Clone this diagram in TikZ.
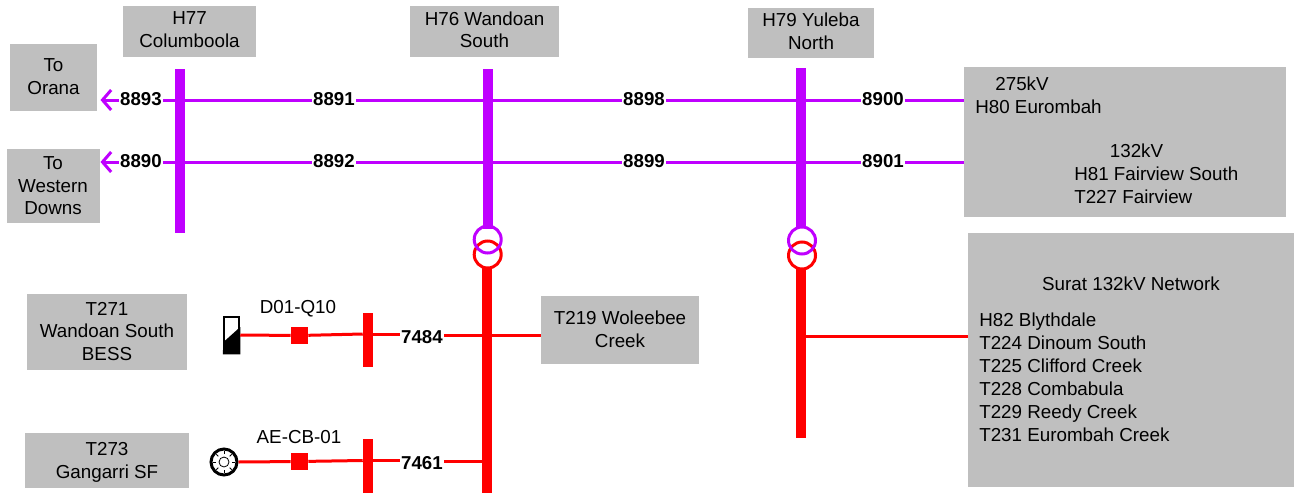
\documentclass[tikz,border=0pt]{standalone}
\usepackage{fontspec}
\setmainfont{Liberation Sans}
\usetikzlibrary{arrows.meta}
\definecolor{kvhigh}{HTML}{BF00FF}
\definecolor{kvlow}{HTML}{FF0000}
\definecolor{boxgray}{HTML}{BFBFBF}
% struts that nudge the text of a box up or down
\newcommand{\nudgeup}[1]{\rule[-#1]{0pt}{#1}}
\newcommand{\nudgedown}[1]{\rule{0pt}{#1}}
\tikzset{
	sized/.style 2 args={minimum width=#1*0.75pt, minimum height=#2*0.75pt, inner sep=0pt},
	stnbox/.style={rectangle, fill=boxgray, align=center, font=\fontsize{14.1}{16.875}\selectfont},
	stntext/.style={align=left, inner sep=0pt, font=\fontsize{14.1}{17.25}\selectfont},
	numlabel/.style={fill=white, inner xsep=1pt, inner ysep=0pt, text height=10pt, text depth=2pt, font=\fontsize{14}{14}\selectfont\bfseries},
	devlabel/.style={inner sep=0pt, font=\fontsize{14.1}{14}\selectfont},
	busbar/.style={rectangle, fill=#1},
	winding/.style={circle, draw=#1, line width=2.25pt, minimum size=20.25pt, inner sep=0pt},
	hvline/.style={draw=kvhigh, line width=2.25pt},
	lvline/.style={draw=kvlow, line width=2.25pt},
	breaker/.style={rectangle, fill=kvlow, minimum size=12.75pt, inner sep=0pt}
}
\begin{document}
\begin{tikzpicture}[x=0.75pt, y=-0.75pt]
	\useasboundingbox (0,0) rectangle (1295,493);

	% Stations and feeders
	\node[stnbox, sized={133}{51}] (H77) at (189.5,31.5) {H77\\Columboola\nudgeup{3pt}};
	\node[stnbox, sized={149}{51}] (H76) at (484.5,31.5) {H76 Wandoan\\South\nudgeup{3pt}};
	\node[stnbox, sized={126}{50}] (H79) at (811,33) {H79 Yuleba\\North\nudgeup{3pt}};
	\node[stnbox, sized={87}{67}] (orana) at (53.5,77.5) {To\\Orana\nudgeup{1.5pt}};
	\node[stnbox, sized={93}{74}] (western) at (53,186) {To\\Western\\Downs};
	\node[stnbox, sized={158}{68}] (T219) at (620,330) {T219 Woleebee\\Creek\nudgeup{1.5pt}};
	\node[stnbox, sized={160}{76}] (T271) at (107,332) {T271\\Wandoan South\\BESS\nudgeup{1.5pt}};
	\node[stnbox, sized={164}{55}] (T273) at (107,460.5) {\nudgedown{13pt}T273\\Gangarri SF};

	% Right hand groups
	\node[stnbox, sized={322}{150}] (north) at (1125,142) {};
	\node[stnbox, sized={326}{254}] (surat) at (1131,360) {};
	\node[stntext] (t275) at (1022,84) {275kV};
	\node[stntext, anchor=west] (H80) at (975,107) {H80 Eurombah};
	\node[stntext] (t132) at (1136.5,151) {132kV};
	\node[stntext, anchor=north west] (H81) at (1074,167) {H81 Fairview South\\T227 Fairview};
	\node[stntext] (tsurat) at (1131,284) {Surat 132kV Network};
	\node[stntext, anchor=north west] (H82) at (979,312.5) {H82 Blythdale\\T224 Dinoum South\\T225 Clifford Creek\\T228 Combabula\\T229 Reedy Creek\\T231 Eurombah Creek};

	% Busbars
	\node[busbar=kvhigh, sized={10}{164}] (busH77) at (180,151) {};
	\node[busbar=kvhigh, sized={10}{160}] (busH76) at (488,149) {};
	\node[busbar=kvhigh, sized={10}{160}] (busH79) at (801,148) {};
	\node[busbar=kvlow, sized={10}{225}] (lowH76) at (487,380.5) {};
	\node[busbar=kvlow, sized={10}{170}] (lowH79) at (801,353) {};
	\node[busbar=kvlow, sized={10}{54}] (busQ10) at (368,340) {};
	\node[busbar=kvlow, sized={10}{54}] (busCB) at (368,466) {};

	% Transformers
	\node[winding=kvlow] (lowT76) at (487.7,254.5) {};
	\node[winding=kvhigh] (highT76) at (487.7,239.5) {};
	\node[winding=kvlow] (lowT79) at (802,255.5) {};
	\node[winding=kvhigh] (highT79) at (802,240.5) {};

	% Circuit numbers
	\node[numlabel] (L8893) at (141,100) {8893};
	\node[numlabel] (L8891) at (334,100) {8891};
	\node[numlabel] (L8898) at (644,100) {8898};
	\node[numlabel] (L8900) at (883,100) {8900};
	\node[numlabel] (L8890) at (141,162) {8890};
	\node[numlabel] (L8892) at (334,162) {8892};
	\node[numlabel] (L8899) at (644,162) {8899};
	\node[numlabel] (L8901) at (883,162) {8901};
	\node[numlabel] (L7484) at (422,338.5) {7484};
	\node[numlabel] (L7461) at (422,464.5) {7461};

	% Feeder ends
	\coordinate (endA) at (100.5,100);
	\coordinate (endB) at (100.5,162);
	\coordinate (endC) at (964,100);
	\coordinate (endD) at (964,162);
	\draw[hvline, {Straight Barb[length=6.5pt,width=15pt]}-] (endA) -- (L8893);
	\draw[hvline, {Straight Barb[length=6.5pt,width=15pt]}-] (endB) -- (L8890);
	\draw[hvline] (L8893) -- (L8891);
	\draw[hvline] (L8891) -- (L8898);
	\draw[hvline] (L8898) -- (L8900);
	\draw[hvline] (L8900) -- (endC);
	\draw[hvline] (L8890) -- (L8892);
	\draw[hvline] (L8892) -- (L8899);
	\draw[hvline] (L8899) -- (L8901);
	\draw[hvline] (L8901) -- (endD);

	% BESS connection
	\node[rectangle, draw=black, line width=1.5pt, fill=white, sized={15.5}{36.5}] (bess) at (231.5,335) {};
	\fill[black] (bess.south west) -- (223.5,342) -- (bess.east |- 0,327) -- (bess.south east) -- cycle;
	\node[breaker] (cbQ10) at (299.5,335.5) {};
	\node[devlabel] (tQ10) at (298,309) {D01-Q10};
	\draw[lvline] (bess.east) -- (cbQ10);
	\draw[lvline] (cbQ10) -- (busQ10.west |- 0,334);
	\draw[lvline] (busQ10.east |- 0,334) -- (L7484.west |- 0,334);
	\draw[lvline] (L7484.east |- 0,335) -- (T219.west |- 0,335);

	% Solar connection
	\node[circle, draw=black, line width=2.25pt, minimum size=19.5pt, inner sep=0pt] (solar) at (224,462) {};
	\node[circle, draw=black, line width=0.6pt, minimum size=7.5pt, inner sep=0pt] (sun) at (224,462) {};
	\foreach \a in {0,45,...,315}
		\draw[black, line width=0.6pt] (solar.center) ++(\a:8) -- ++(\a:2.8);
	\node[breaker] (cbAE) at (299.5,461.5) {};
	\node[devlabel] (tAE) at (299,437) {AE-CB-01};
	\draw[lvline] (solar.east) -- (cbAE);
	\draw[lvline] (cbAE) -- (busCB.west |- 0,460.5);
	\draw[lvline] (busCB.east |- 0,460.5) -- (L7461.west |- 0,460.5);
	\draw[lvline] (L7461.east |- 0,461) -- (lowH76.west |- 0,461);

	% Surat network
	\draw[lvline] (lowH79.east |- 0,336) -- (surat.west |- 0,336);
\end{tikzpicture}
\end{document}
